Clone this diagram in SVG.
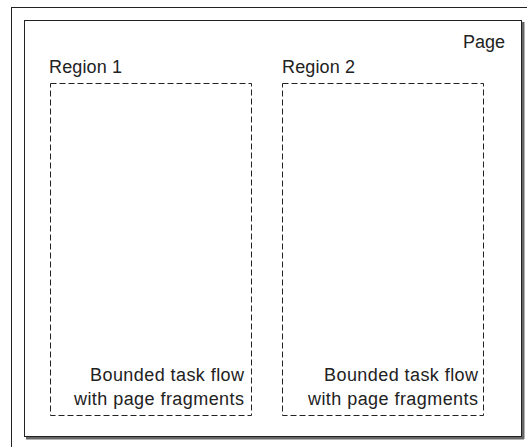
<svg xmlns="http://www.w3.org/2000/svg" width="527" height="447" viewBox="0 0 527 447">
<style>
text{font-family:"Liberation Sans",Arial,sans-serif;font-size:18px;fill:#222}
.r{text-anchor:end}
.dash{fill:none;stroke:#222;stroke-width:1;stroke-dasharray:6 3}
</style>
<rect width="527" height="447" fill="#fff"/>
<g id="frame">
<rect x="11.5" y="7.5" width="530" height="450" fill="none" stroke="#222"/>
</g>
<g id="page">
<line x1="26" y1="438" x2="524" y2="438" stroke="#666" stroke-width="3"/>
<line x1="523" y1="22" x2="523" y2="439" stroke="#666" stroke-width="3"/>
<rect x="24.5" y="20.5" width="497" height="416" fill="#fff" stroke="#222"/>
<text class="r" x="505" y="48">Page</text>
</g>
<g id="region1">
<text x="49" y="73" textLength="73">Region 1</text>
<rect class="dash" x="50.5" y="83.5" width="201" height="332"/>
<text class="r" x="244" y="381" textLength="154">Bounded task flow</text>
<text class="r" x="244" y="405" textLength="170">with page fragments</text>
</g>
<g id="region2">
<text x="282" y="73" textLength="73">Region 2</text>
<rect class="dash" x="282.5" y="83.5" width="201" height="332"/>
<text class="r" x="478" y="381" textLength="154">Bounded task flow</text>
<text class="r" x="478" y="405" textLength="170">with page fragments</text>
</g>
<g id="connectors"/>
</svg>
